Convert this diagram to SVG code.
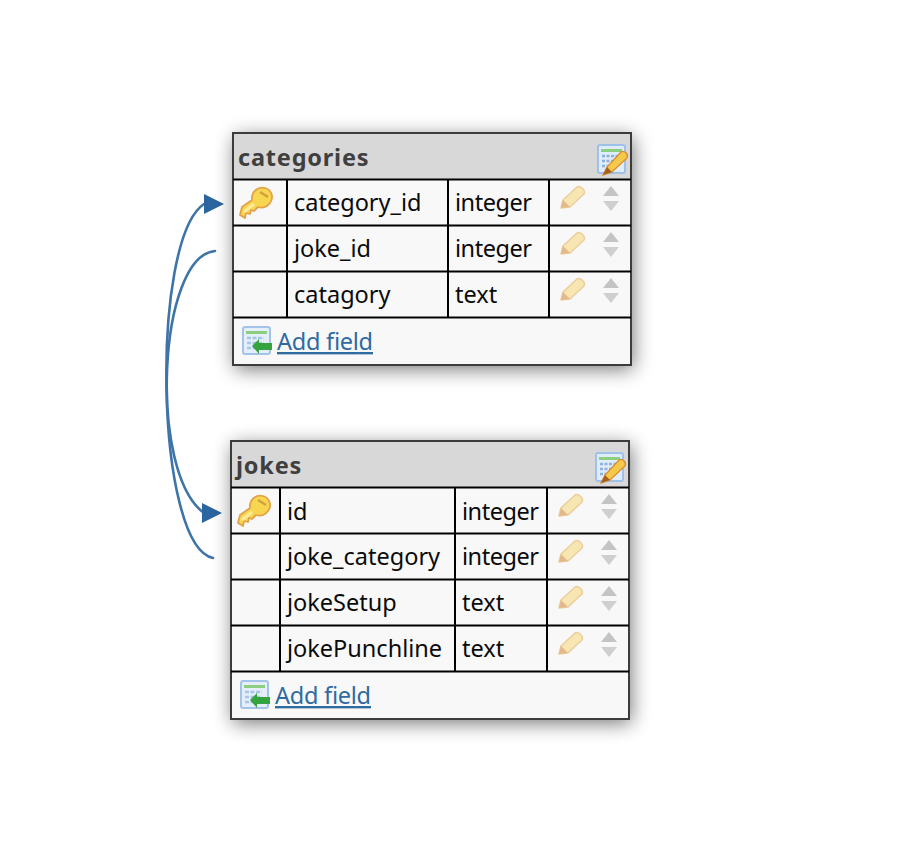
<svg xmlns="http://www.w3.org/2000/svg" xmlns:xlink="http://www.w3.org/1999/xlink" width="902" height="848" viewBox="0 0 902 848">
<style>
text{font-family:"Noto Sans","Open Sans","Liberation Sans",sans-serif}
.title{font-size:23.5px;font-weight:700;fill:#3f3f3f;letter-spacing:.8px}
.cell{font-size:23.5px;fill:#0a0a0a}
.add{font-size:23.5px;fill:#2f6aa0;text-decoration:underline}
.box{fill:#f8f8f8;stroke:#3c3c3c;stroke-width:2}
.head{fill:#d8d8d8}
.grid{stroke:#000;stroke-width:2;fill:none}
.conn{fill:none;stroke:#3f74a8;stroke-width:2.6;stroke-linecap:round}
.tip{fill:#2b65a0}
</style>
<defs>
<filter id="sh" x="-25%" y="-25%" width="150%" height="150%"><feGaussianBlur stdDeviation="10"/></filter>
<g id="key">
<path d="M1 29 L3 21 L13 14 C12 6 19 0 26 2 C33 4 35 12 31 17 C27 22 22 22 19 21 L15 25 L12 24 L11 28 L7 27 L6 32 Z" fill="#f8d64f" stroke="#e2a24a" stroke-width="1.8" stroke-linejoin="round"/>
<path d="M21 6 L29 11" stroke="#d0a040" stroke-width="2.5" fill="none"/>
<path d="M5 26 L15 18" stroke="#fbeb9a" stroke-width="3" fill="none"/>
</g>
<g id="pencil">
<path d="M1 22 L3 14 L17 1 C20 -1 26 4 24 8 L10 21 Z" fill="#f7e6b2" stroke="#eccf9e" stroke-width="1.6" stroke-linejoin="round"/>
<path d="M1 22 L3 14 L10 21 Z" fill="#e3b98c"/>
</g>
<g id="arrows">
<path d="M8 -1 L16 9 L0 9 Z" fill="#c4c4c4"/>
<path d="M0 14 L16 14 L8 24 Z" fill="#cfcfcf"/>
</g>
<g id="edit">
<rect x="1" y="1" width="27" height="28" rx="2" fill="#dfecfb" stroke="#9fc0e8" stroke-width="2"/>
<rect x="4" y="5" width="21" height="3" fill="#8ccf7e"/>
<path d="M5 12 H22 M5 17 H16 M5 22 H12" stroke="#8fb0d8" stroke-width="2.5" stroke-dasharray="3 1.5"/>
<path d="M6 31 L10 23 L24 8 C27 6 32 10 30 14 L15 28 Z" fill="#f6c84a" stroke="#d98a2e" stroke-width="1.2"/>
<path d="M6 31 L10 23 L15 28 Z" fill="#a5601f"/>
</g>
<g id="addicon">
<rect x="1" y="1" width="27" height="27" rx="2" fill="#e4effb" stroke="#a4c3e8" stroke-width="2"/>
<rect x="4" y="5" width="21" height="3" fill="#8ccf7e"/>
<path d="M5 12 H22 M5 17 H22 M5 22 H22" stroke="#a9c4e4" stroke-width="2.5" stroke-dasharray="4 1.5"/>
<path d="M10 20 L17 13 V17 H30 V24 H17 V28 Z" fill="#35a33f"/>
</g>
</defs>

<g id="connectors">
<path class="conn" d="M215 251 C158 256 148 472 204 513"/>
<path class="conn" d="M213 558 C155 546 150 240 204 204"/>
<path class="tip" d="M204 194 L224 204 L204 214 Z"/>
<path class="tip" d="M202 503 L222 513 L202 523 Z"/>
</g>

<g id="table-categories">
<rect x="235" y="137" width="398" height="232" fill="#000" opacity=".55" filter="url(#sh)"/>
<rect class="box" x="233" y="133" width="398" height="232"/>
<rect class="head" x="234" y="134" width="396" height="45"/>
<text class="title" x="238" y="166">categories</text>
<use href="#edit" x="597" y="144"/>
<path class="grid" d="M233 179.500H631M233 225.500H631M233 271.500H631M233 317.500H631M287 179V317M448 179V317M549 179V317"/>
<use href="#key" x="239" y="186"/>
<text class="cell" x="294" y="211">category_id</text><text class="cell" x="455" y="211" textLength="77">integer</text>
<text class="cell" x="294" y="257">joke_id</text><text class="cell" x="455" y="257" textLength="77">integer</text>
<text class="cell" x="294" y="303">catagory</text><text class="cell" x="455" y="303">text</text>
<use href="#pencil" x="560" y="186"/><use href="#arrows" x="603" y="187"/>
<use href="#pencil" x="560" y="232"/><use href="#arrows" x="603" y="233"/>
<use href="#pencil" x="560" y="278"/><use href="#arrows" x="603" y="279"/>
<use href="#addicon" x="242" y="326"/>
<text class="add" x="277" y="350" textLength="96">Add field</text>
</g>

<g id="table-jokes">
<rect x="233" y="445" width="398" height="278" fill="#000" opacity=".55" filter="url(#sh)"/>
<rect class="box" x="231" y="441" width="398" height="278"/>
<rect class="head" x="232" y="442" width="396" height="45"/>
<text class="title" x="236" y="474">jokes</text>
<use href="#edit" x="595" y="452"/>
<path class="grid" d="M231 487.500H629M231 533.500H629M231 579.500H629M231 625.500H629M231 671.500H629M280 487V671M455 487V671M547 487V671"/>
<use href="#key" x="237" y="494"/>
<text class="cell" x="287" y="520">id</text><text class="cell" x="462" y="520" textLength="77">integer</text>
<text class="cell" x="287" y="565">joke_category</text><text class="cell" x="462" y="565" textLength="77">integer</text>
<text class="cell" x="287" y="611">jokeSetup</text><text class="cell" x="462" y="611">text</text>
<text class="cell" x="287" y="657">jokePunchline</text><text class="cell" x="462" y="657">text</text>
<use href="#pencil" x="558" y="494"/><use href="#arrows" x="601" y="495"/>
<use href="#pencil" x="558" y="540"/><use href="#arrows" x="601" y="541"/>
<use href="#pencil" x="558" y="586"/><use href="#arrows" x="601" y="587"/>
<use href="#pencil" x="558" y="632"/><use href="#arrows" x="601" y="633"/>
<use href="#addicon" x="240" y="680"/>
<text class="add" x="275" y="704" textLength="96">Add field</text>
</g>
</svg>
